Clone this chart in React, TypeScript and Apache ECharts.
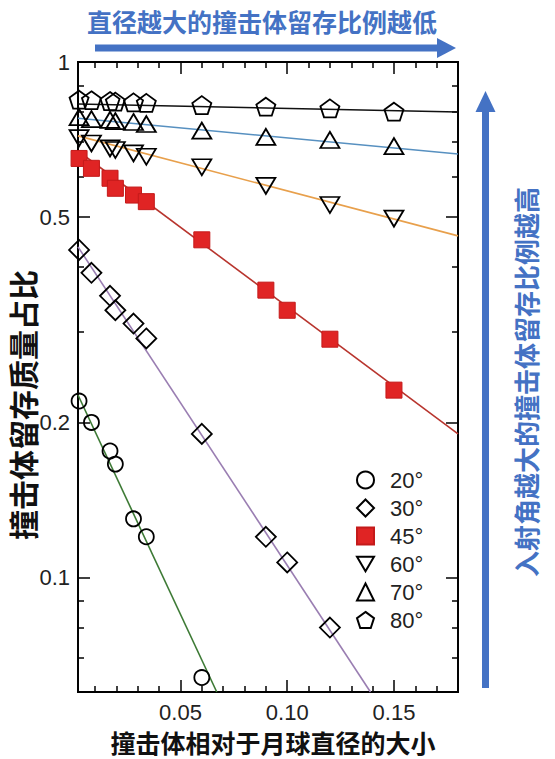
import React, { useEffect, useRef } from "react";
import * as echarts from "echarts";

// ---- data ----
const angleNames = ["20°", "30°", "45°", "60°", "70°", "80°"];

const x20 = [0.0025, 0.0083, 0.017, 0.0195, 0.028, 0.034, 0.06];
const y20 = [0.22, 0.2, 0.176, 0.166, 0.13, 0.12, 0.064];

const x30 = [0.0025, 0.0083, 0.017, 0.0195, 0.028, 0.034, 0.06, 0.09, 0.1, 0.12];
const y30 = [0.432, 0.39, 0.352, 0.33, 0.311, 0.291, 0.19, 0.12, 0.107, 0.08];

const x45 = [0.0025, 0.0083, 0.017, 0.0195, 0.028, 0.034, 0.06, 0.09, 0.1, 0.12, 0.15];
const y45 = [0.65, 0.622, 0.595, 0.569, 0.552, 0.536, 0.452, 0.361, 0.33, 0.29, 0.231];

const x60 = [0.0025, 0.0083, 0.017, 0.0195, 0.028, 0.034, 0.06, 0.09, 0.12, 0.15];
const y60 = [0.712, 0.695, 0.68, 0.675, 0.665, 0.655, 0.625, 0.575, 0.528, 0.497];

const x70 = [0.0025, 0.0083, 0.017, 0.0195, 0.028, 0.034, 0.06, 0.09, 0.12, 0.15];
const y70 = [0.782, 0.775, 0.772, 0.768, 0.765, 0.758, 0.736, 0.716, 0.706, 0.687];

const x80 = [0.0025, 0.0083, 0.017, 0.0195, 0.028, 0.034, 0.06, 0.09, 0.12, 0.15];
const y80 = [0.845, 0.843, 0.84, 0.838, 0.835, 0.833, 0.825, 0.819, 0.813, 0.801];

// fitted lines: [x0, y0, x1, y1]
const fit20 = [0.002, 0.226, 0.067, 0.06];
const fit30 = [0.002, 0.438, 0.139, 0.06];
const fit45 = [0.002, 0.672, 0.18, 0.19];
const fit60 = [0.002, 0.719, 0.18, 0.46];
const fit70 = [0.002, 0.778, 0.18, 0.663];
const fit80 = [0.002, 0.829, 0.18, 0.8];

const xMajorTicks = [0.05, 0.1, 0.15];
const xMinorTicks = [0.01, 0.02, 0.03, 0.04, 0.06, 0.07, 0.08, 0.09, 0.11, 0.12, 0.13, 0.14, 0.16, 0.17];
const yMajorTicks = [0.1, 0.2, 0.5, 1];
const yMinorTicks = [0.07, 0.08, 0.09, 0.3, 0.4, 0.6, 0.7, 0.8, 0.9];

const titleTop = "直径越大的撞击体留存比例越低";
const titleRight = "入射角越大的撞击体留存比例越高";
const xName = "撞击体相对于月球直径的大小";
const yName = "撞击体留存质量占比";

const X_MIN = 0.002;
const X_MAX = 0.18;
const Y_MIN = 0.06;
const Y_MAX = 1;

const zip = (xs: number[], ys: number[]) => xs.map((x, i) => [x, ys[i]]);
const seg = (f: number[]) => [[f[0], f[1]], [f[2], f[3]]];

const CJK = "'Noto Sans CJK SC', sans-serif";
const LATIN = "'Liberation Sans', Arial, sans-serif";
const BLUE = "#4472c4";

export default function App() {
  const ref = useRef<HTMLDivElement>(null);

  useEffect(() => {
    if (!ref.current) return;
    const chart = echarts.init(ref.current, undefined, { renderer: "svg" });

    const lineStyleAxis = { color: "#000", width: 1.8 };
    const mkX = (grid: number, pos: string, ticks: number[], len: number, labels: boolean) => ({
      type: "value",
      gridIndex: grid,
      position: pos,
      min: X_MIN,
      max: X_MAX,
      axisLine: { show: true, onZero: false, lineStyle: lineStyleAxis },
      axisTick: { show: true, inside: true, length: len, customValues: ticks, lineStyle: { color: "#000", width: 1.5 } },
      axisLabel: {
        show: labels,
        customValues: ticks,
        formatter: (v: number) => v.toFixed(2),
        fontFamily: LATIN,
        fontSize: 22,
        color: "#222",
        margin: 9,
      },
      splitLine: { show: false },
    });
    const mkY = (grid: number, pos: string, ticks: number[], len: number, labels: boolean) => ({
      type: "log",
      logBase: 10,
      gridIndex: grid,
      position: pos,
      min: Y_MIN,
      max: Y_MAX,
      axisLine: { show: true, onZero: false, lineStyle: lineStyleAxis },
      axisTick: { show: true, inside: true, length: len, customValues: ticks, lineStyle: { color: "#000", width: 1.5 } },
      axisLabel: {
        show: labels,
        customValues: ticks,
        formatter: (v: number) => String(Math.round(v * 10) / 10),
        fontFamily: LATIN,
        fontSize: 22,
        color: "#222",
        margin: 8,
      },
      splitLine: { show: false },
      minorTick: { show: false },
    });

    const gridRect = { left: 78, top: 62, width: 380, height: 630 };

    const open = { color: "rgba(0,0,0,0)", borderColor: "#000", borderWidth: 1.8, opacity: 1 };
    const fitLine = (data: number[], color: string) => ({
      type: "line",
      xAxisIndex: 0,
      yAxisIndex: 0,
      data: seg(data),
      symbol: "none",
      showSymbol: false,
      silent: true,
      clip: true,
      lineStyle: { color, width: 1.6 },
      z: 2,
    });
    const pts = (name: string, xs: number[], ys: number[], symbol: string, size: any, itemStyle: any) => ({
      type: "scatter",
      name,
      xAxisIndex: 0,
      yAxisIndex: 0,
      data: zip(xs, ys),
      symbol,
      symbolSize: size,
      itemStyle,
      z: 3,
    });

    const pentagon = "path://M0,-1L0.951,-0.309L0.588,0.809L-0.588,0.809L-0.951,-0.309Z";
    const downTri = "path://M0,0L2,0L1,1.7Z";

    chart.setOption({
      animation: false,
      backgroundColor: "#fff",
      grid: [
        { ...gridRect },
        { ...gridRect },
      ],
      xAxis: [
        mkX(0, "bottom", xMajorTicks, 12, true),
        mkX(0, "top", xMajorTicks, 12, false),
        mkX(1, "bottom", xMinorTicks, 6, false),
        mkX(1, "top", xMinorTicks, 6, false),
      ],
      yAxis: [
        mkY(0, "left", yMajorTicks, 12, true),
        mkY(0, "right", yMajorTicks, 12, false),
        mkY(1, "left", yMinorTicks, 6, false),
        mkY(1, "right", yMinorTicks, 6, false),
      ],
      legend: {
        orient: "vertical",
        left: 356,
        top: 469,
        itemWidth: 17,
        itemHeight: 17,
        itemGap: 6,
        padding: 0,
        formatter: "{t|{name}}",
        textStyle: {
          fontFamily: LATIN,
          fontSize: 22,
          color: "#222",
          rich: { t: { fontFamily: LATIN, fontSize: 22, color: "#222", padding: [0, 0, 0, 11] } },
        },
        data: angleNames,
      },
      series: [
        fitLine(fit20, "#3d7a35"),
        fitLine(fit30, "#9a7eb2"),
        fitLine(fit45, "#b8352e"),
        fitLine(fit60, "#e8a04c"),
        fitLine(fit70, "#5790c0"),
        fitLine(fit80, "#111"),
        pts(angleNames[0], x20, y20, "circle", 15, open),
        pts(angleNames[1], x30, y30, "diamond", 20, open),
        pts(angleNames[2], x45, y45, "rect", 16, { color: "#e02424", borderColor: "#c41a1a", borderWidth: 1, opacity: 1 }),
        pts(angleNames[3], x60, y60, downTri, [19, 16], open),
        pts(angleNames[4], x70, y70, "triangle", [19, 16], open),
        pts(angleNames[5], x80, y80, pentagon, [19, 18], open),
      ],
      graphic: [
        {
          type: "text",
          x: 262,
          y: 21,
          style: {
            text: titleTop,
            font: `bold 25px ${CJK}`,
            fill: BLUE,
            textAlign: "center",
            textVerticalAlign: "middle",
          },
        },
        { type: "rect", shape: { x: 95, y: 44.5, width: 343, height: 7 }, style: { fill: BLUE } },
        { type: "polygon", shape: { points: [[437, 38], [456, 48], [437, 58]] }, style: { fill: BLUE } },
        { type: "rect", shape: { x: 482, y: 110, width: 7, height: 578 }, style: { fill: BLUE } },
        { type: "polygon", shape: { points: [[475.5, 112], [485.5, 91], [495.5, 112]] }, style: { fill: BLUE } },
        {
          type: "text",
          x: 525,
          y: 382,
          rotation: Math.PI / 2,
          style: {
            text: titleRight,
            font: `bold 26px ${CJK}`,
            fill: BLUE,
            textAlign: "center",
            textVerticalAlign: "middle",
          },
        },
        {
          type: "text",
          x: 22,
          y: 405,
          rotation: Math.PI / 2,
          style: {
            text: yName,
            font: `bold 30px ${CJK}`,
            fill: "#111",
            textAlign: "center",
            textVerticalAlign: "middle",
          },
        },
        {
          type: "text",
          x: 273,
          y: 742,
          style: {
            text: xName,
            font: `bold 25px ${CJK}`,
            fill: "#111",
            textAlign: "center",
            textVerticalAlign: "middle",
          },
        },
      ],
    });

    return () => chart.dispose();
  }, []);

  return (
    <div
      ref={ref}
      style={{ position: "fixed", left: 0, top: 0, width: 555, height: 759, background: "#fff" }}
    />
  );
}
